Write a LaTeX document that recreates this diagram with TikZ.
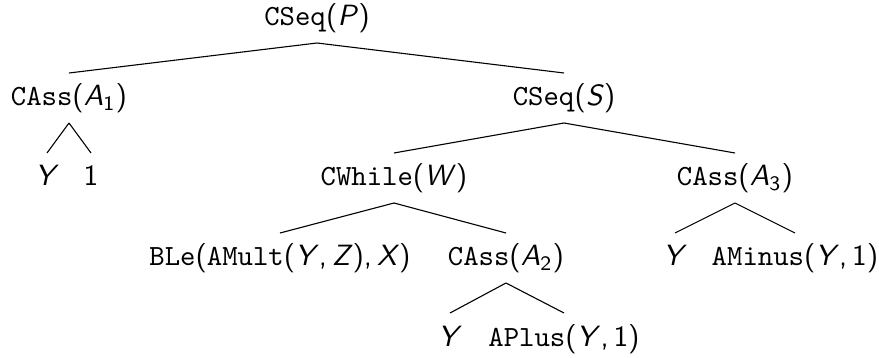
\documentclass[tikz,border=0pt]{standalone}
\usepackage{graphicx}
\newcommand\mvar[1]{\textsf{\textit{#1}}}
\newcommand\mpun[1]{\textsf{#1}}
\newcommand\msub[1]{\textsubscript{\textsf{#1}}}
\newcommand\lbltext[1]{\scalebox{2.93}{\fontsize{10}{12}\selectfont #1}}
\begin{document}
\begin{tikzpicture}[x=1pt,y=-1pt,
  lbl/.style={anchor=base,inner sep=0pt},
  edge/.style={line width=1.1pt}]
\useasboundingbox (0,0) rectangle (879,358);
% row 1
\node[lbl] (p) at (317,26) {\lbltext{\texttt{CSeq}\mpun{(}\mvar{P}\mpun{)}}};
% row 2
\node[lbl] (a1) at (69,106) {\lbltext{\texttt{CAss}\mpun{(}\mvar{A}\msub{1}\mpun{)}}};
\node[lbl] (s) at (564,106) {\lbltext{\texttt{CSeq}\mpun{(}\mvar{S}\mpun{)}}};
% row 3
\node[lbl] (y1) at (47,186) {\lbltext{\mvar{Y}}};
\node[lbl] (o1) at (91,186) {\lbltext{\mpun{1}}};
\node[lbl] (w) at (394,186) {\lbltext{\texttt{CWhile}\mpun{(}\mvar{W}\mpun{)}}};
\node[lbl] (a3) at (735,186) {\lbltext{\texttt{CAss}\mpun{(}\mvar{A}\msub{3}\mpun{)}}};
% row 4
\node[lbl] (b) at (280,266) {\lbltext{\texttt{BLe}\mpun{(}\texttt{AMult}\mpun{(}\mvar{Y}\mpun{,}\,\mvar{Z}\mpun{)}\mpun{,}\,\mvar{X}\mpun{)}}};
\node[lbl] (a2) at (506,266) {\lbltext{\texttt{CAss}\mpun{(}\mvar{A}\msub{2}\mpun{)}}};
\node[lbl] (y3) at (675,266) {\lbltext{\mvar{Y}}};
\node[lbl] (m) at (795,266) {\lbltext{\texttt{AMinus}\mpun{(}\mvar{Y}\mpun{,}\,\mpun{1}\mpun{)}}};
% row 5
\node[lbl] (y2) at (450,346) {\lbltext{\mvar{Y}}};
\node[lbl] (pl) at (564,346) {\lbltext{\texttt{APlus}\mpun{(}\mvar{Y}\mpun{,}\,\mpun{1}\mpun{)}}};
% edges
\foreach \pa/\ch in {p/a1,p/s,a1/y1,a1/o1,s/w,s/a3,w/b,w/a2,a3/y3,a3/m,a2/y2,a2/pl}
  \draw[edge] ([yshift=-17pt]\pa.base) -- ([yshift=33pt]\ch.base);
\end{tikzpicture}
\end{document}
